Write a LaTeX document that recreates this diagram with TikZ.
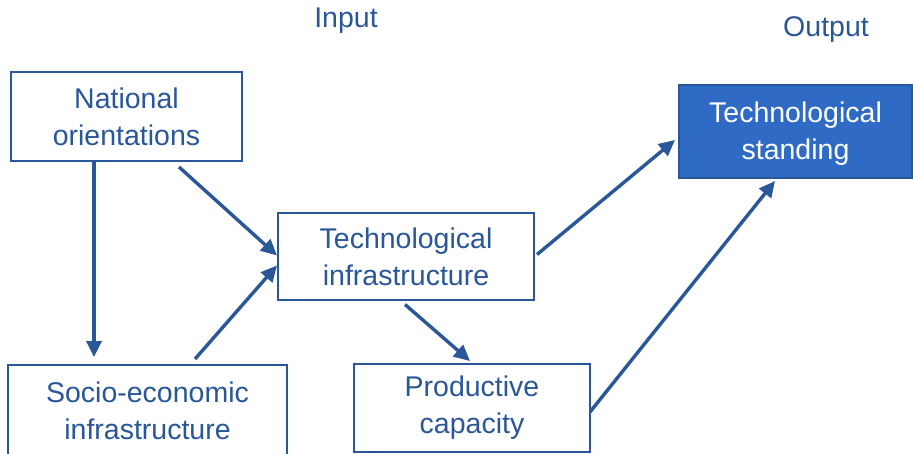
\documentclass[tikz,border=0pt]{standalone}
\usepackage{fontspec}
\setmainfont{Liberation Sans}
\usetikzlibrary{arrows.meta,calc}
\definecolor{navy}{RGB}{41,87,152}
\definecolor{boxblue}{RGB}{47,107,196}
\tikzset{
  txt/.style={font=\fontsize{28.5}{37}\selectfont, text=navy, align=center},
  box/.style={txt, draw=navy, line width=2pt, fill=white, inner sep=0pt},
  hibox/.style={box, fill=boxblue, text=white},
  arr/.style={draw=navy, line width=3.4pt, -{Triangle[length=16pt,width=15pt]}},
}
\begin{document}
\begin{tikzpicture}[x=1pt,y=-1pt]
\useasboundingbox (0,0) rectangle (913,454);

% column headings
\node[txt] (inp) at (346,21) {Input};
\node[txt] (outp) at (826,30) {Output};

% boxes
\node[box, minimum width=231pt, minimum height=89pt] (nat) at (126.5,116.5) {National\\orientations};
\node[box, minimum width=279pt, minimum height=91pt] (soc) at (147.5,410.5) {Socio-economic\\infrastructure};
\node[box, minimum width=256pt, minimum height=87pt] (tech) at (406,256.5) {Technological\\infrastructure};
\node[box, minimum width=236pt, minimum height=88pt] (prod) at (472,408) {Productive\\capacity};
\node[hibox, minimum width=233pt, minimum height=93pt, text depth=2pt] (stand) at (795.5,131.5) {Technological\\standing};

% connectors
\draw[arr] ($(nat.south west)+(84,0)$) -- ($(soc.north west)+(87,-7)$);
\draw[arr] ($(nat.south west)+(169,5)$) -- ($(tech.west)+(0,-1)$);
\draw[arr] ($(soc.north west)+(188,-5)$) -- ($(tech.west)+(0,9)$);
\draw[arr] ($(tech.east)+(2,-2)$) -- ($(stand.west)+(-3,8.5)$);
\draw[arr] ($(tech.south)+(-1,3.5)$) -- ($(prod.north)+(-2,-2)$);
\draw[arr] ($(prod.east)+(-1,4)$) -- ($(stand.south)+(-20.5,2)$);
\end{tikzpicture}
\end{document}
